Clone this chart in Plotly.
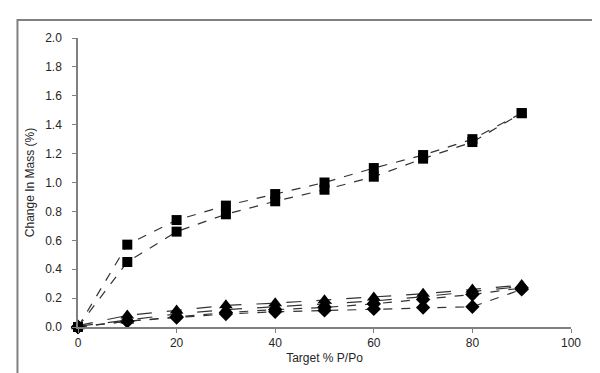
import plotly.graph_objects as go

x_vals = [0, 10, 20, 30, 40, 50, 60, 70, 80, 90]

square_upper = [0.00, 0.57, 0.74, 0.84, 0.92, 1.00, 1.10, 1.19, 1.30, 1.48]
square_lower = [0.00, 0.45, 0.66, 0.78, 0.87, 0.95, 1.04, 1.165, 1.28, 1.48]
triangle_upper = [0.01, 0.08, 0.115, 0.15, 0.165, 0.185, 0.205, 0.23, 0.26, 0.29]
triangle_lower = [0.005, 0.045, 0.09, 0.12, 0.14, 0.16, 0.18, 0.21, 0.245, 0.28]
diamond_upper = [0.00, 0.04, 0.07, 0.10, 0.12, 0.135, 0.16, 0.19, 0.225, 0.27]
diamond_lower = [0.00, 0.04, 0.065, 0.09, 0.105, 0.115, 0.125, 0.135, 0.14, 0.26]

x_ticks = [0, 20, 40, 60, 80, 100]
y_ticks = [0.0, 0.2, 0.4, 0.6, 0.8, 1.0, 1.2, 1.4, 1.6, 1.8, 2.0]

series = [
    (diamond_lower, "diamond", "dash", 11),
    (diamond_upper, "diamond", "dash", 11),
    (triangle_lower, "triangle-up", "longdash", 12),
    (triangle_upper, "triangle-up", "longdash", 12),
    (square_lower, "square", "dash", 10),
    (square_upper, "square", "dash", 10),
]

fig = go.Figure()
for ys, sym, dash, size in series:
    fig.add_trace(go.Scatter(
        x=x_vals, y=ys, mode="lines+markers",
        line=dict(color="#333333", width=1.2, dash=dash),
        marker=dict(symbol=sym, size=size, color="black"),
        cliponaxis=False, showlegend=False,
    ))

axis_font = dict(family="Liberation Sans, Arial, sans-serif", size=12, color="#262626")

fig.update_layout(
    width=600, height=373,
    paper_bgcolor="white", plot_bgcolor="white",
    margin=dict(l=70, r=37, t=30, b=54),
    font=axis_font,
    xaxis=dict(
        range=[0, 100], tickvals=x_ticks, ticktext=[str(v) for v in x_ticks],
        showgrid=False, zeroline=False, showline=True, linecolor="#808080", linewidth=1.5,
        ticks="outside", ticklen=4, tickcolor="#808080", tickfont=axis_font,
        ticklabelstandoff=0,
        title=dict(text="Target % P/Po", font=axis_font, standoff=4),
    ),
    yaxis=dict(
        range=[0, 2.0], tickvals=y_ticks, ticktext=[f"{v:.1f}" for v in y_ticks],
        showgrid=False, zeroline=False, showline=True, linecolor="#808080", linewidth=1.5,
        ticks="outside", ticklen=4, tickcolor="#808080", tickfont=axis_font,
        ticklabelstandoff=8,
        title=dict(text="Change In Mass (%)", font=axis_font, standoff=8),
    ),
    shapes=[dict(
        type="rect", xref="paper", yref="paper",
        x0=-0.1228, x1=1.3, y0=-0.5, y1=1.062,
        line=dict(color="#808080", width=2), fillcolor="rgba(0,0,0,0)", layer="below",
    )],
)

fig.write_html("out.html")
